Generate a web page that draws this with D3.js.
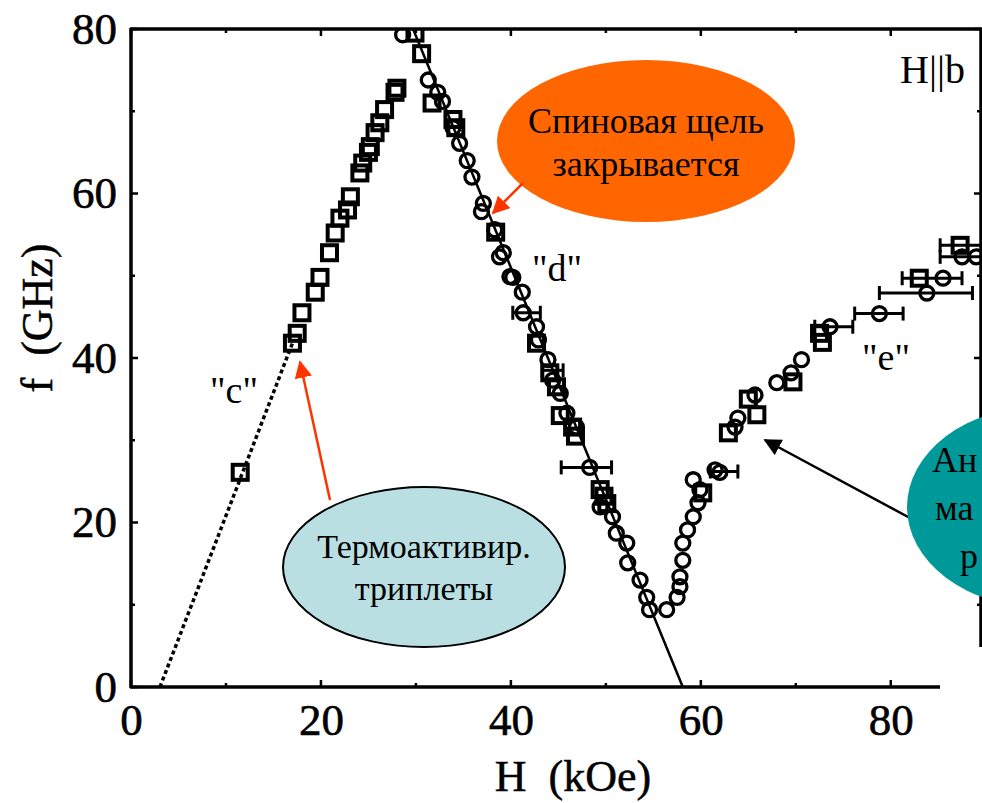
<!DOCTYPE html>
<html>
<head>
<meta charset="utf-8">
<script src="https://cdn.jsdelivr.net/npm/d3@7/dist/d3.min.js"></script>
<style>
  body { margin: 0; background: #fff; }
  svg { display: block; font-family: "Liberation Serif", "Times New Roman", serif; }
</style>
</head>
<body>
<div id="chart"></div>
<script>
// open squares [H kOe, f GHz]
const squares = [
  [11.5, 26.1], [17.0, 41.8], [17.5, 43.0], [18.0, 45.5], [19.4, 48.0], [19.9, 49.8],
  [20.9, 52.8], [21.5, 55.2], [22.0, 57.0], [22.8, 58.0], [23.1, 59.6], [24.1, 62.5],
  [24.4, 63.7], [25.0, 65.0], [25.2, 65.7], [25.7, 67.4], [26.2, 68.6], [26.7, 70.2],
  [27.8, 72.3], [28.0, 72.8], [30.6, 77.0], [29.9, 79.5],
  [31.7, 71.0], [33.9, 69.0], [34.2, 68.0], [38.4, 55.3], [42.7, 41.8], [44.1, 38.2],
  [44.8, 36.5], [45.2, 33.0], [46.5, 31.6], [46.8, 30.5], [49.4, 24.0], [49.8, 23.2],
  [50.1, 22.3],
  [60.2, 23.6], [62.9, 30.9], [65.9, 33.1], [65.0, 35.0], [69.7, 37.1], [72.8, 41.9],
  [72.5, 43.0], [83.0, 49.7], [87.3, 53.7]
];

// open circles [H kOe, f GHz]
const circles = [
  [28.6, 79.3],
  [31.3, 73.8], [32.3, 72.3], [32.8, 71.2], [33.9, 68.0], [34.6, 66.1], [35.4, 64.0],
  [35.9, 62.0], [36.9, 57.8], [37.1, 58.8], [38.3, 55.6], [38.8, 52.3], [39.2, 52.8],
  [39.9, 49.9], [40.2, 49.8], [41.2, 48.0], [41.3, 45.5], [42.7, 43.8], [42.9, 42.2],
  [43.9, 39.8], [44.4, 37.3], [45.2, 35.7], [45.9, 33.3], [46.9, 31.6], [48.3, 26.7],
  [49.4, 21.9], [50.7, 20.7], [51.1, 18.7], [52.2, 17.5], [52.3, 15.1], [53.6, 13.0],
  [54.3, 10.9], [54.6, 9.4], [56.4, 9.4],
  [57.5, 10.9], [57.8, 12.2], [57.8, 13.4], [58.1, 15.4], [58.1, 17.5], [58.6, 19.1],
  [59.2, 20.7], [59.7, 22.4], [59.9, 24.0], [59.2, 25.2], [61.5, 26.4], [62.0, 26.1],
  [63.6, 31.6], [63.9, 32.7], [65.7, 35.5], [68.0, 37.0], [69.5, 38.2], [70.6, 39.8],
  [73.6, 43.8], [78.8, 45.4], [83.8, 47.9], [85.5, 49.7], [87.5, 52.3], [89.0, 52.3]
];

// horizontal error bars [H, f, Hlow, Hhigh]
const errorBars = [
  [41.3, 45.5, 40.2, 43.1], [44.5, 38.5, 43.3, 45.5], [48.3, 26.7, 45.3, 50.6],
  [61.7, 26.2, 61.0, 63.9], [73.6, 43.8, 72.0, 76.0], [78.8, 45.4, 76.2, 81.3],
  [83.8, 47.9, 78.8, 88.6], [83.0, 49.7, 81.2, 87.5], [87.5, 52.3, 85.2, 91.0],
  [87.3, 53.7, 85.2, 91.0]
];

// fitted lines
const lineC = [[3.05, 0], [17.0, 41.8]];
const lineD = [[29.7, 80], [58.1, 0]];

const xMajor = [0, 20, 40, 60, 80];
const xMinor = [10, 30, 50, 70];
const yMajor = [0, 20, 40, 60, 80];
const yMinor = [10, 30, 50, 70];

const W = 982, H = 803;
const svg = d3.select('#chart').append('svg')
  .attr('width', W).attr('height', H);

const x = d3.scaleLinear().domain([0, 89.5]).range([131, 981]);
const y = d3.scaleLinear().domain([0, 80]).range([687, 29]);

const defs = svg.append('defs');
defs.append('clipPath').attr('id', 'plot')
  .append('rect').attr('x', 131).attr('y', 29).attr('width', 850).attr('height', 658);
function arrowHead(id, color) {
  defs.append('marker').attr('id', id)
    .attr('viewBox', '0 0 10 10').attr('refX', 9).attr('refY', 5)
    .attr('markerWidth', 7).attr('markerHeight', 7).attr('orient', 'auto')
    .append('path').attr('d', 'M0,0 L10,5 L0,10 Z').attr('fill', color);
}
arrowHead('arRed', '#ff3300');
arrowHead('arBlack', '#000');

// frame
const frame = svg.append('g').attr('stroke', '#000').attr('stroke-width', 3.5).attr('fill', 'none');
frame.append('line').attr('x1', 131).attr('x2', 131).attr('y1', 28).attr('y2', 688);
frame.append('line').attr('x1', 130).attr('x2', 982).attr('y1', 29).attr('y2', 29);
frame.append('line').attr('x1', 130).attr('x2', 940).attr('y1', 687).attr('y2', 687);
frame.append('line').attr('x1', 981).attr('x2', 981).attr('y1', 29).attr('y2', 647);

// ticks (inward)
const tk = svg.append('g').attr('stroke', '#000').attr('stroke-width', 2.5);
xMajor.concat(xMinor).forEach(v => {
  const len = xMajor.includes(v) ? 7 : 4;
  tk.append('line').attr('x1', x(v)).attr('x2', x(v)).attr('y1', 29).attr('y2', 29 + len);
  tk.append('line').attr('x1', x(v)).attr('x2', x(v)).attr('y1', 687).attr('y2', 687 - len);
});
yMajor.concat(yMinor).forEach(v => {
  const len = yMajor.includes(v) ? 7 : 4;
  tk.append('line').attr('x1', 131).attr('x2', 131 + len).attr('y1', y(v)).attr('y2', y(v));
  if (y(v) < 640) tk.append('line').attr('x1', 981).attr('x2', 981 - len).attr('y1', y(v)).attr('y2', y(v));
});

// tick labels via axes
const xAxis = svg.append('g').attr('transform', 'translate(0,687)')
  .call(d3.axisBottom(x).tickValues(xMajor).tickSize(0).tickPadding(16).tickFormat(d3.format('d')));
const yAxis = svg.append('g').attr('transform', 'translate(131,0)')
  .call(d3.axisLeft(y).tickValues(yMajor).tickSize(0).tickPadding(14).tickFormat(d3.format('d')));
[xAxis, yAxis].forEach(g => {
  g.select('.domain').remove();
  g.selectAll('text').attr('font-family', '"Liberation Serif", serif')
    .attr('font-size', 45).attr('fill', '#000')
    .attr('stroke', '#000').attr('stroke-width', 0.6);
});
yAxis.selectAll('text').attr('dy', '0.32em');
xAxis.selectAll('text').attr('dy', '0.7em');

// axis titles
svg.append('text').attr('x', 573).attr('y', 791).attr('text-anchor', 'middle')
  .attr('font-size', 44).attr('stroke', '#000').attr('stroke-width', 0.5)
  .attr('xml:space', 'preserve').text('H  (kOe)');
svg.append('text').attr('transform', 'translate(52,318) rotate(-90)').attr('text-anchor', 'middle')
  .attr('font-size', 44).attr('stroke', '#000').attr('stroke-width', 0.5)
  .attr('xml:space', 'preserve').text('f  (GHz)');

const plot = svg.append('g').attr('clip-path', 'url(#plot)');

// lines
const lineGen = d3.line().x(d => x(d[0])).y(d => y(d[1]));
plot.append('path').datum(lineC).attr('d', lineGen)
  .attr('stroke', '#000').attr('stroke-width', 3.5).attr('stroke-dasharray', '4,3').attr('fill', 'none');
plot.append('path').datum(lineD).attr('d', lineGen)
  .attr('stroke', '#000').attr('stroke-width', 2.5).attr('fill', 'none');

// error bars
const eb = plot.append('g').attr('stroke', '#000').attr('stroke-width', 3);
errorBars.forEach(d => {
  eb.append('line').attr('x1', x(d[2])).attr('x2', x(d[3])).attr('y1', y(d[1])).attr('y2', y(d[1]));
  [d[2], d[3]].forEach(v => eb.append('line').attr('x1', x(v)).attr('x2', x(v))
    .attr('y1', y(d[1]) - 7).attr('y2', y(d[1]) + 7));
});

// markers
plot.append('g').selectAll('rect').data(squares).join('rect')
  .attr('x', d => x(d[0]) - 7.5).attr('y', d => y(d[1]) - 7.5)
  .attr('width', 15).attr('height', 15)
  .attr('fill', 'none').attr('stroke', '#000').attr('stroke-width', 4);
plot.append('g').selectAll('circle').data(circles).join('circle')
  .attr('cx', d => x(d[0])).attr('cy', d => y(d[1])).attr('r', 7)
  .attr('fill', 'none').attr('stroke', '#000').attr('stroke-width', 3.3);

// curve labels
svg.append('text').attr('x', 234).attr('y', 403).attr('text-anchor', 'middle').attr('font-size', 38).text('"c"');
svg.append('text').attr('x', 557).attr('y', 281).attr('text-anchor', 'middle').attr('font-size', 38).text('"d"');
svg.append('text').attr('x', 886).attr('y', 370).attr('text-anchor', 'middle').attr('font-size', 38).text('"e"');
svg.append('text').attr('x', 900).attr('y', 83).attr('font-size', 40).text('H||b');

// annotations
const ann = svg.append('g');
ann.append('ellipse').attr('cx', 646).attr('cy', 141).attr('rx', 149).attr('ry', 81).attr('fill', '#ff6600');
ann.append('text').attr('x', 646).attr('y', 133).attr('text-anchor', 'middle').attr('font-size', 36).text('Спиновая щель');
ann.append('text').attr('x', 646).attr('y', 176).attr('text-anchor', 'middle').attr('font-size', 36).text('закрывается');
ann.append('line').attr('x1', 523).attr('y1', 183).attr('x2', 493).attr('y2', 213)
  .attr('stroke', '#ff3300').attr('stroke-width', 2.5).attr('marker-end', 'url(#arRed)');

ann.append('line').attr('x1', 330).attr('y1', 500).attr('x2', 300).attr('y2', 362)
  .attr('stroke', '#ff3300').attr('stroke-width', 2.5).attr('marker-end', 'url(#arRed)');
ann.append('ellipse').attr('cx', 424).attr('cy', 567).attr('rx', 141).attr('ry', 80)
  .attr('fill', '#b9dfe3').attr('stroke', '#000').attr('stroke-width', 2);
ann.append('text').attr('x', 424).attr('y', 558).attr('text-anchor', 'middle').attr('font-size', 34).text('Термоактивир.');
ann.append('text').attr('x', 424).attr('y', 600).attr('text-anchor', 'middle').attr('font-size', 34).text('триплеты');

ann.append('line').attr('x1', 910).attr('y1', 518).attr('x2', 765).attr('y2', 440)
  .attr('stroke', '#000').attr('stroke-width', 2.5).attr('marker-end', 'url(#arBlack)');
ann.append('ellipse').attr('cx', 1040).attr('cy', 507).attr('rx', 133).attr('ry', 100).attr('fill', '#009999');
// only the part of this note that is visible inside the picture
ann.append('text').attr('x', 932).attr('y', 472).attr('font-size', 36).text('Ан');
ann.append('text').attr('x', 935).attr('y', 520).attr('font-size', 36).text('ма');
ann.append('text').attr('x', 960).attr('y', 568).attr('font-size', 36).text('р');
</script>
</body>
</html>
